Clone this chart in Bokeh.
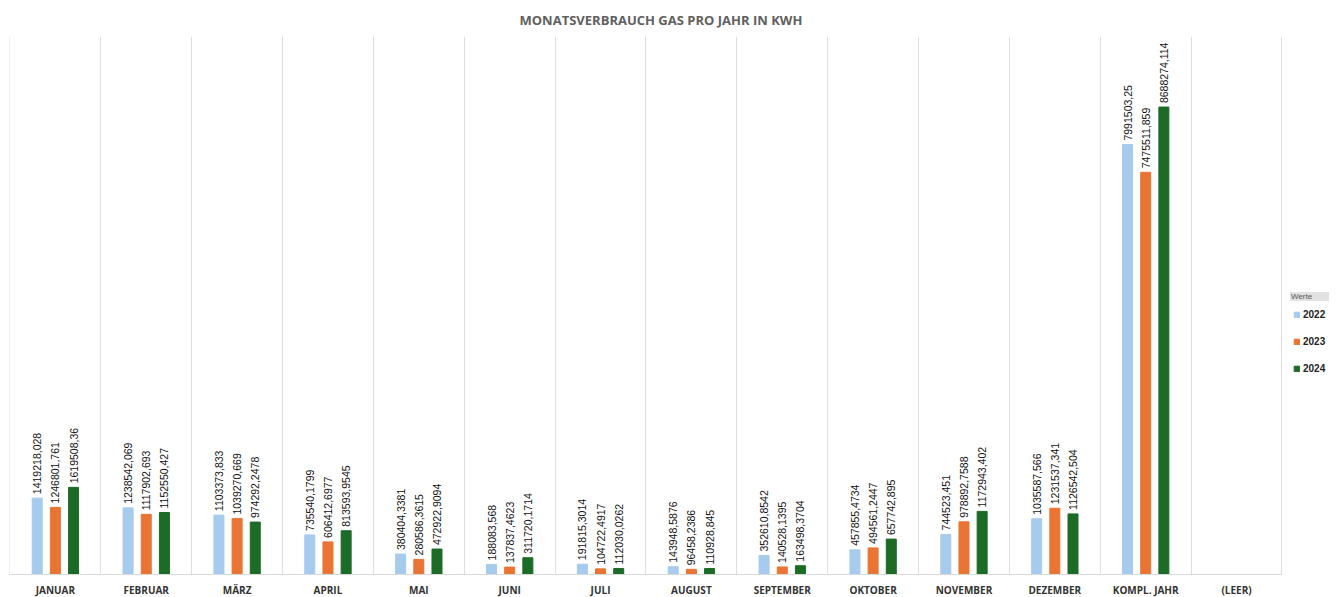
import numpy as np
from bokeh.plotting import figure
from bokeh.models import FixedTicker, Legend, LegendItem, Range1d, ColumnDataSource
from bokeh.embed import file_html
from bokeh.resources import INLINE
from bokeh.core.properties import value

categories = ["JANUAR", "FEBRUAR", "MÄRZ", "APRIL", "MAI", "JUNI", "JULI", "AUGUST",
              "SEPTEMBER", "OKTOBER", "NOVEMBER", "DEZEMBER", "KOMPL. JAHR", "(LEER)"]
years = ["2022", "2023", "2024"]
v2022 = [1419218.028, 1238542.069, 1103373.833, 735540.1799, 380404.3381, 188083.568,
         191815.3014, 143948.5876, 352610.8542, 457855.4734, 744523.451, 1035587.566,
         7991503.25, None]
v2023 = [1246801.761, 1117902.693, 1039270.669, 606412.6977, 280586.3615, 137837.4623,
         104722.4917, 96458.2386, 140528.1395, 494561.2447, 978892.7588, 1231537.341,
         7475511.859, None]
v2024 = [1619508.36, 1152550.427, 974292.2478, 813593.9545, 472922.9094, 311720.1714,
         112030.0262, 110928.845, 163498.3704, 657742.895, 1172943.402, 1126542.504,
         8688274.114, None]
colors = ["#A7CBEC", "#E97434", "#1C6B26"]
series = [v2022, v2023, v2024]
offsets = [-0.2, 0.0, 0.2]

FONT_LBL = "Liberation Sans"
FONT_AX = "Open Sans"

n = len(categories)
p = figure(frame_width=1321, frame_height=538, output_backend="svg", toolbar_location=None,
           x_range=Range1d(-0.505, 14.034), y_range=Range1d(0, 10_000_000),
           min_border_left=9, min_border_right=0, min_border_top=36, min_border_bottom=0)
p.outline_line_color = None
p.background_fill_color = "white"
p.border_fill_color = "white"

p.title.text = "MONATSVERBRAUCH GAS PRO JAHR IN KWH"
p.title.align = "left"
p.title.text_font = "Open Sans"
p.title.text_font_style = "bold"
p.title.text_font_size = "13px"
p.title.text_color = "#606060"
p.title.offset = 510
p.title.standoff = 16

p.yaxis.visible = False
p.ygrid.visible = False
p.xgrid.ticker = FixedTicker(ticks=[i - 0.5 for i in range(n + 1)])
p.xgrid.grid_line_color = "#dedede"
p.xgrid.grid_line_width = 1

idx = list(range(n))
p.xaxis.ticker = FixedTicker(ticks=idx)
p.xaxis.bounds = (-0.5, n - 0.5)
p.xaxis.major_label_overrides = {i: c for i, c in enumerate(categories)}
p.xaxis.axis_line_color = "#d9d9d9"
p.xaxis.major_tick_line_color = None
p.xaxis.minor_tick_line_color = None
p.xaxis.major_label_text_font = FONT_AX
p.xaxis.major_label_text_font_style = "bold"
p.xaxis.major_label_text_font_size = "10px"
p.xaxis.major_label_text_color = "#333333"
p.xaxis.major_label_standoff = 2

renderers = []
for vals, col, off in zip(series, colors, offsets):
    xs = [i + off for i in idx]
    tops = [v if v is not None else 0 for v in vals]
    r = p.vbar(x=xs, top=tops, width=0.11, fill_color=col, line_color=col, line_width=1)
    renderers.append(r)
    lx = [i + off for i, v in zip(idx, vals) if v is not None]
    ly = [v for v in vals if v is not None]
    lt = [repr(v).replace(".", ",") for v in vals if v is not None]
    src = ColumnDataSource(dict(x=lx, y=ly, t=lt))
    p.text(x="x", y="y", text="t", source=src, angle=np.pi / 2, text_align="left",
           text_baseline="middle", y_offset=-4, text_font=value(FONT_LBL),
           text_font_size="10.5px", text_color="#111111")

legend = Legend(items=[LegendItem(label=y, renderers=[r]) for y, r in zip(years, renderers)],
                location=(1284, 200))
legend.label_text_font = "Liberation Sans"
legend.label_text_font_style = "bold"
legend.label_text_font_size = "10px"
legend.label_text_color = "#222222"
legend.label_standoff = 3
legend.glyph_width = 7
legend.glyph_height = 7
legend.label_height = 10
legend.spacing = 16
legend.padding = 4
legend.margin = 0
legend.border_line_color = None
legend.background_fill_alpha = 0
p.add_layout(legend)

# header box "Werte" of the legend
dummy = p.vbar(x=[], top=[], width=0.1, fill_alpha=0, line_alpha=0)
head = Legend(items=[LegendItem(label="Werte", renderers=[dummy])], location=(1281, 273))
head.label_text_font = "Liberation Sans"
head.label_text_font_size = "8px"
head.label_text_color = "#555555"
head.label_standoff = 0
head.glyph_width = 1
head.glyph_height = 9
head.label_height = 9
head.label_width = 38
head.padding = 1
head.margin = 0
head.border_line_color = None
head.background_fill_color = "#e2e2e2"
head.background_fill_alpha = 1
p.add_layout(head)

open("out.html", "w").write(file_html(p, INLINE))
